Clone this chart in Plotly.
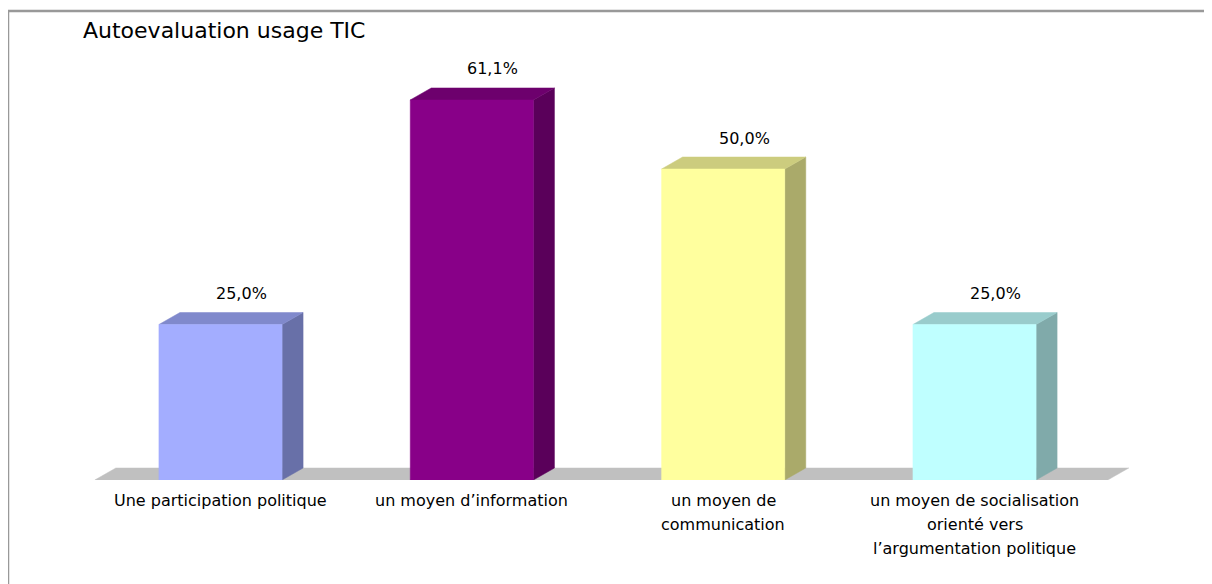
import plotly.graph_objects as go

# data
categories = [
    ["Une participation politique"],
    ["un moyen d’information"],
    ["un moyen de", "communication"],
    ["un moyen de socialisation", "orienté vers", "l’argumentation politique"],
]
values = [25.0, 61.1, 50.0, 25.0]
value_labels = ["25,0%", "61,1%", "50,0%", "25,0%"]
title_text = "Autoevaluation usage TIC"

front_colors = ["#A3ADFF", "#880088", "#FFFF9E", "#BFFFFF"]
top_colors = ["#8089CC", "#6D006D", "#CCCC7E", "#99CCCC"]
side_colors = ["#6870A8", "#5A005A", "#AAAA6A", "#80AAAA"]
floor_color = "#C0C0C0"

# page / 3d geometry (the html body adds an 8px margin, so the figure
# is made 8px smaller to fit the window without scrollbars)
PAD = 8
W, H = 1212 - PAD, 584 - PAD
L, R, T, B = 52, 52, 32, 104
BAR_W = 0.49
DX = 0.0836   # depth offset, x units
DY = 1.93     # depth offset, y units
X_RANGE = [-0.6386, 3.738]
Y_RANGE = [0, 70.74]
FLOOR_X = (-0.5, 3.53)
FONT = "DejaVu Sans"


def poly(xs, ys, color):
    return go.Scatter(
        x=xs + [xs[0]],
        y=ys + [ys[0]],
        mode="lines",
        fill="toself",
        fillcolor=color,
        line=dict(color=color, width=0.5),
        hoverinfo="skip",
        showlegend=False,
    )


fig = go.Figure()

# floor
f0, f1 = FLOOR_X
fig.add_trace(poly([f0, f1, f1 + DX, f0 + DX], [0, 0, DY, DY], floor_color))

for i, v in enumerate(values):
    x0, x1 = i - BAR_W / 2, i + BAR_W / 2
    # side face
    fig.add_trace(poly([x1, x1 + DX, x1 + DX, x1], [0, DY, v + DY, v], side_colors[i]))
    # top face
    fig.add_trace(poly([x0, x1, x1 + DX, x0 + DX], [v, v, v + DY, v + DY], top_colors[i]))
    # front face
    fig.add_trace(poly([x0, x1, x1, x0], [0, 0, v, v], front_colors[i]))

    fig.add_annotation(
        x=i + DX, y=v + DY, yshift=19,
        text=value_labels[i], showarrow=False,
        xanchor="center", yanchor="middle",
        font=dict(family=FONT, size=16, color="black"),
    )

    for k, line in enumerate(categories[i]):
        fig.add_annotation(
            x=i, y=0, yshift=-20 - 24 * k,
            text=line, showarrow=False,
            xanchor="center", yanchor="middle",
            font=dict(family=FONT, size=16, color="black"),
        )

plot_w = W - L - R
plot_h = H - T - B
bottom_px = H - B  # pixel row of y=0 inside the figure


def px_x(p):
    return (p - PAD - L) / plot_w


def px_y(p):
    return (bottom_px - (p - PAD)) / plot_h


fig.add_annotation(
    xref="paper", yref="paper",
    x=px_x(81), y=px_y(31),
    text=title_text, showarrow=False,
    xanchor="left", yanchor="middle",
    font=dict(family=FONT, size=22, color="black"),
)

# chart frame: only its top and left edges are inside the page
frame = dict(color="#999999", width=2.5)
fig.add_shape(type="line", xref="paper", yref="paper",
              x0=px_x(7), x1=px_x(1240), y0=px_y(11), y1=px_y(11), line=frame)
fig.add_shape(type="line", xref="paper", yref="paper",
              x0=px_x(8), x1=px_x(8), y0=px_y(10), y1=px_y(620), line=frame)

fig.update_xaxes(range=X_RANGE, visible=False, fixedrange=True)
fig.update_yaxes(range=Y_RANGE, visible=False, fixedrange=True)

fig.update_layout(
    width=W,
    height=H,
    margin=dict(l=L, r=R, t=T, b=B),
    plot_bgcolor="white",
    paper_bgcolor="white",
    showlegend=False,
    hovermode=False,
)

fig.write_html("out.html")
